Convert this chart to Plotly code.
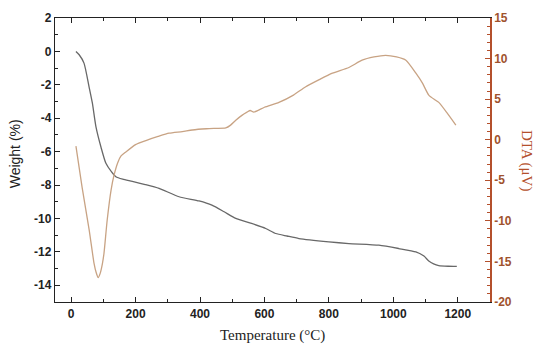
import plotly.graph_objects as go

# Weight curve (TG)
temp_w = [15, 25, 40, 56, 66, 77, 93, 108, 125, 139, 160, 190, 230, 273, 335, 397, 437, 475, 511, 560, 604, 635, 670, 707, 800, 862, 955, 1017, 1070, 1095, 1110, 1125, 1141, 1170, 1197]
weight = [0.0, -0.2, -0.7, -2.15, -3.1, -4.5, -5.75, -6.7, -7.2, -7.5, -7.65, -7.78, -7.97, -8.2, -8.7, -8.95, -9.2, -9.6, -10.0, -10.3, -10.6, -10.9, -11.05, -11.2, -11.4, -11.5, -11.6, -11.8, -12.0, -12.25, -12.55, -12.72, -12.82, -12.86, -12.87]

# DTA curve
temp_d = [15, 34, 56, 71, 78, 84, 90, 97, 102, 112, 124, 133, 145, 155, 170, 200, 232, 270, 304, 345, 376, 420, 449, 480, 495, 511, 530, 546, 556, 567, 600, 645, 690, 727, 770, 811, 862, 903, 940, 976, 1010, 1039, 1070, 1090, 1110, 1130, 1141, 1165, 1194]
dta = [-0.8, -5.85, -11.1, -15.2, -16.4, -17.0, -16.5, -15.3, -14.0, -9.9, -6.2, -4.4, -2.8, -2.0, -1.5, -0.6, -0.1, 0.4, 0.8, 1.0, 1.2, 1.35, 1.4, 1.45, 1.8, 2.4, 3.0, 3.4, 3.6, 3.4, 4.0, 4.6, 5.5, 6.5, 7.4, 8.2, 8.9, 9.8, 10.2, 10.4, 10.2, 9.8, 8.2, 7.0, 5.5, 4.9, 4.6, 3.4, 1.8]

x_ticks = [0, 200, 400, 600, 800, 1000, 1200]
y_ticks = [2, 0, -2, -4, -6, -8, -10, -12, -14]
y2_ticks = [15, 10, 5, 0, -5, -10, -15, -20]

AX_RED = "#b4502c"
LBL_RED = "#a0522d"

fig = go.Figure()
fig.add_trace(go.Scatter(x=temp_w, y=weight, mode="lines", line=dict(color="#686868", width=1.3, shape="spline", smoothing=0.6), yaxis="y", showlegend=False))
fig.add_trace(go.Scatter(x=temp_d, y=dta, mode="lines", line=dict(color="#c8a384", width=1.3, shape="spline", smoothing=0.6), yaxis="y2", showlegend=False))

tickfont = dict(family="Liberation Sans, Arial", size=12, color="#222222", weight="bold")

# page body has an 8px default margin; figure sized to the visible area
fig.update_layout(
    width=542, height=340,
    margin=dict(l=47, r=60, t=10, b=46),
    paper_bgcolor="white", plot_bgcolor="white",
    xaxis=dict(
        range=[-50, 1300], tickvals=x_ticks, ticktext=[str(v) for v in x_ticks],
        ticks="inside", ticklen=5, tickwidth=1, tickcolor="#222",
        minor=dict(ticks="inside", dtick=100, tick0=0, ticklen=3, tickcolor="#222"),
        showline=True, linecolor="#222", linewidth=1.3, mirror="ticks",
        showgrid=False, zeroline=False, tickfont=tickfont, automargin=False,
    ),
    yaxis=dict(
        range=[-15, 2], tickvals=y_ticks, ticktext=[str(v) for v in y_ticks],
        ticks="inside", ticklen=5, tickwidth=1, tickcolor="#222",
        minor=dict(ticks="inside", dtick=1, tick0=0, ticklen=3, tickcolor="#222"),
        showline=True, linecolor="#222", linewidth=1.3,
        showgrid=False, zeroline=False, tickfont=tickfont, automargin=False,
    ),
    yaxis2=dict(
        range=[-20, 15], overlaying="y", side="right",
        tickvals=y2_ticks, ticktext=[str(v) for v in y2_ticks],
        ticks="inside", ticklen=5, tickwidth=1, tickcolor=AX_RED,
        minor=dict(ticks="inside", dtick=1, tick0=0, ticklen=3, tickcolor=AX_RED),
        showline=True, linecolor=AX_RED, linewidth=1.5,
        showgrid=False, zeroline=False, automargin=False,
        tickfont=dict(family="Liberation Sans, Arial", size=12, color=LBL_RED, weight="bold"),
    ),
    annotations=[
        dict(text="DTA (μV)", textangle=90, xref="paper", yref="paper",
             x=1.0, y=0.5, xanchor="center", yanchor="middle", xshift=37, showarrow=False,
             font=dict(family="Liberation Serif, DejaVu Serif", size=15, color=AX_RED)),
        dict(text="Weight (%)", textangle=-90, xref="paper", yref="paper",
             x=0.0, y=0.52, xanchor="center", yanchor="middle", xshift=-40, showarrow=False,
             font=dict(family="Liberation Sans, Arial", size=14, color="#222")),
        dict(text="Temperature (°C)", xref="paper", yref="paper",
             x=0.5, y=0.0, xanchor="center", yanchor="middle", yshift=-33, showarrow=False,
             font=dict(family="Liberation Serif, DejaVu Serif", size=15, color="#222")),
    ],
)

fig.write_html("out.html")
